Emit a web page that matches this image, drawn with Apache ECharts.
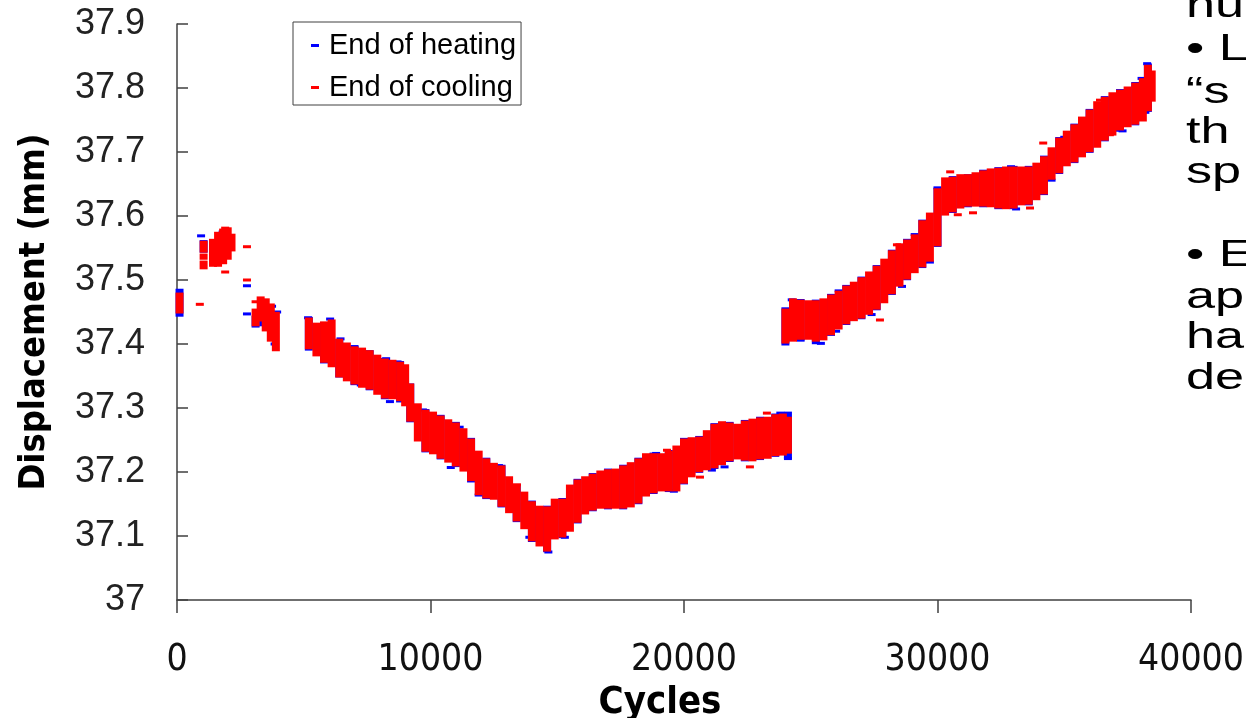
<!DOCTYPE html>
<html>
<head>
<meta charset="utf-8">
<script src="https://cdn.jsdelivr.net/npm/echarts@6/dist/echarts.min.js"></script>
<style>
  html, body { margin: 0; padding: 0; background: #fff; }
  #chart { width: 1246px; height: 718px; }
</style>
</head>
<body>
<div id="chart"></div>
<script>
// Displacement readings over the thermal cycling run.
// Each band entry is one cycle position with the lowest and highest displacement recorded there;
// entries with low == high are single readings.

// End of cooling
const coolCycles = [
  100, 900, 1050, 1050, 1050, 1420, 1620, 1820, 1900, 1900, 2000, 2150, 2760, 2760, 3100, 3100, 3300, 3500, 3700, 3900,
  5200, 5500, 5800, 6100, 6400, 6700, 7000, 7300, 7600, 7900, 8200, 8500, 8800, 9000, 9200,
  9500, 9800, 10100, 10400, 10700, 11000, 11300, 11600, 11900, 12200, 12500, 12800, 13100, 13400, 13700,
  14000, 14300, 14600, 14900, 15200, 15500, 15800, 16100, 16400, 16700, 17000, 17300, 17600, 17900,
  18200, 18500, 18800, 19100, 19400, 19700, 20000, 20300, 20600, 20900, 21200, 21500, 21800, 22100,
  22400, 22700, 23000, 23300, 23600, 23900, 24100,
  24000, 24300, 24600, 24900, 25200, 25500, 25800, 26100, 26400, 26700, 27000, 27300, 27600, 27900,
  28200, 28500, 28800, 29100, 29400, 29700, 30000, 30300, 30600, 30900, 31200, 31500, 31800, 32100,
  32400, 32700, 33000, 33300, 33600, 33900, 34200, 34500, 34800, 35100, 35400, 35700, 36000, 36300,
  36600, 36900, 37200, 37500, 37800, 38100, 38300, 38450
];
const coolLow = [
  37.450, 37.462, 37.545, 37.534, 37.519, 37.523, 37.523, 37.527, 37.581, 37.5125, 37.534, 37.547, 37.552, 37.500, 37.466, 37.430, 37.4375, 37.422, 37.406, 37.391,
  37.394, 37.383, 37.373, 37.366, 37.350, 37.344, 37.339, 37.334, 37.331, 37.323, 37.317, 37.316, 37.313, 37.305, 37.281,
  37.250, 37.234, 37.230, 37.223, 37.217, 37.211, 37.203, 37.188, 37.166, 37.161, 37.159, 37.148, 37.138, 37.125, 37.113,
  37.094, 37.086, 37.078, 37.097, 37.100, 37.109, 37.123, 37.136, 37.142, 37.145, 37.145, 37.145, 37.145, 37.147,
  37.153, 37.164, 37.169, 37.172, 37.172, 37.172, 37.184, 37.194, 37.202, 37.205, 37.208, 37.213, 37.219, 37.222,
  37.220, 37.219, 37.222, 37.223, 37.227, 37.228, 37.231,
  37.403, 37.406, 37.409, 37.409, 37.406, 37.408, 37.416, 37.425, 37.433, 37.438, 37.442, 37.448, 37.456, 37.466,
  37.480, 37.492, 37.503, 37.513, 37.522, 37.531, 37.555, 37.603, 37.608, 37.614, 37.617, 37.617, 37.617, 37.616,
  37.614, 37.613, 37.614, 37.619, 37.620, 37.627, 37.636, 37.659, 37.669, 37.680, 37.686, 37.694, 37.702, 37.709,
  37.720, 37.728, 37.736, 37.741, 37.745, 37.750, 37.766, 37.781
];
const coolHigh = [
  37.478, 37.462, 37.559, 37.539, 37.528, 37.562, 37.573, 37.578, 37.581, 37.5125, 37.580, 37.570, 37.552, 37.500, 37.466, 37.453, 37.472, 37.469, 37.461, 37.448,
  37.439, 37.431, 37.433, 37.436, 37.406, 37.400, 37.394, 37.392, 37.388, 37.381, 37.375, 37.373, 37.370, 37.366, 37.336,
  37.305, 37.295, 37.292, 37.286, 37.280, 37.275, 37.266, 37.250, 37.231, 37.219, 37.212, 37.208, 37.191, 37.178, 37.167,
  37.152, 37.145, 37.144, 37.156, 37.156, 37.178, 37.186, 37.191, 37.195, 37.200, 37.202, 37.203, 37.208, 37.213,
  37.219, 37.227, 37.227, 37.227, 37.231, 37.239, 37.250, 37.252, 37.253, 37.263, 37.273, 37.277, 37.275, 37.273,
  37.278, 37.281, 37.283, 37.284, 37.288, 37.289, 37.284,
  37.453, 37.469, 37.467, 37.466, 37.466, 37.469, 37.475, 37.481, 37.489, 37.495, 37.502, 37.511, 37.520, 37.531,
  37.544, 37.555, 37.561, 37.569, 37.591, 37.603, 37.641, 37.658, 37.659, 37.663, 37.663, 37.666, 37.669, 37.672,
  37.673, 37.675, 37.675, 37.675, 37.675, 37.681, 37.691, 37.705, 37.720, 37.731, 37.741, 37.753, 37.764, 37.777,
  37.784, 37.791, 37.795, 37.800, 37.806, 37.813, 37.834, 37.825
];
// Stray end-of-cooling readings just outside the main band
const coolDashCycles = [13410, 19330, 20630, 22600, 23270, 27730, 28400, 30500, 30800, 31400, 33650, 34170, 36410, 36800];
const coolDashValues = [37.180, 37.234, 37.192, 37.208, 37.292, 37.4375, 37.555, 37.669, 37.602, 37.605, 37.6125, 37.714, 37.781, 37.727];

// End of heating
const heatCycles = [
  100, 950, 1050, 1800, 2760, 2760, 3100, 3400, 3750, 3800, 3850, 3950,
  5200, 5800, 6400, 7000, 7600, 8200, 8800, 9200, 9800, 10400, 11000, 11600, 12200, 12800, 13400,
  14000, 14600, 15200, 15800, 16400, 17000, 17600, 18200, 18800, 19400, 20000, 20600, 21200, 21800,
  22400, 23000, 23600, 24100,
  24000, 24600, 25200, 25800, 26400, 27000, 27600, 28200, 28800, 29400, 30000, 30600, 31200,
  31800, 32400, 33000, 33600, 34200, 34800, 35400, 36000, 36600, 37200, 37800, 38300
];
const heatLow = [
  37.445, 37.569, 37.545, 37.530, 37.491, 37.447, 37.428, 37.430, 37.459, 37.409, 37.400, 37.450,
  37.392, 37.372, 37.350, 37.338, 37.330, 37.316, 37.311, 37.280, 37.233, 37.222, 37.210, 37.186, 37.160, 37.147, 37.124,
  37.093, 37.077, 37.099, 37.122, 37.141, 37.144, 37.144, 37.152, 37.168, 37.171, 37.183, 37.201, 37.207, 37.218,
  37.219, 37.221, 37.226, 37.223,
  37.400, 37.408, 37.402, 37.415, 37.432, 37.441, 37.455, 37.479, 37.502, 37.521, 37.554, 37.607, 37.616,
  37.616, 37.613, 37.613, 37.619, 37.635, 37.668, 37.685, 37.701, 37.719, 37.734, 37.744, 37.765
];
const heatHigh = [
  37.484, 37.569, 37.560, 37.575, 37.491, 37.447, 37.442, 37.465, 37.459, 37.409, 37.400, 37.450,
  37.440, 37.432, 37.405, 37.395, 37.388, 37.376, 37.371, 37.336, 37.296, 37.287, 37.276, 37.251, 37.220, 37.209, 37.179,
  37.153, 37.145, 37.157, 37.187, 37.196, 37.203, 37.209, 37.220, 37.228, 37.232, 37.251, 37.254, 37.274, 37.276,
  37.279, 37.284, 37.289, 37.292,
  37.455, 37.468, 37.467, 37.476, 37.490, 37.503, 37.521, 37.545, 37.562, 37.592, 37.642, 37.660, 37.663,
  37.670, 37.674, 37.676, 37.676, 37.692, 37.721, 37.742, 37.765, 37.785, 37.796, 37.807, 37.836
];
// Stray end-of-heating readings along the edges of the band
const heatDashCycles = [
  5170, 6040, 6450, 7000, 7250, 8250, 8400, 8700, 9700, 10800, 11150, 11900, 12700, 13900, 14650, 15300,
  18900, 19600, 21100, 21600, 23800, 24100, 24250, 24600, 25400, 26000, 26100, 27400, 28600, 29100,
  29700, 30000, 32900, 33100, 34500, 35000, 37300, 38050, 38200, 38270
];
const heatDashValues = [
  37.441, 37.439, 37.408, 37.396, 37.336, 37.377, 37.310, 37.372, 37.297, 37.207, 37.270, 37.164, 37.210, 37.098, 37.075, 37.098,
  37.229, 37.170, 37.203, 37.208, 37.292, 37.221, 37.469, 37.406, 37.401, 37.420, 37.483, 37.446, 37.490, 37.571,
  37.528, 37.644, 37.677, 37.611, 37.656, 37.723, 37.733, 37.815, 37.762, 37.838
];

function bandData(cycles, low, high, dashCycles, dashValues) {
  const out = cycles.map((c, i) => [c, low[i], high[i]]);
  dashCycles.forEach((c, i) => out.push([c, dashValues[i], dashValues[i]]));
  return out;
}

// Each reading is drawn as a short horizontal dash; a run of readings at one cycle stacks into a bar.
function dashRenderer(color) {
  return function (params, api) {
    const top = api.coord([api.value(0), api.value(2)]);
    const bot = api.coord([api.value(0), api.value(1)]);
    return {
      type: 'rect',
      shape: { x: top[0] - 4, y: top[1] - 1.5, width: 8, height: bot[1] - top[1] + 3 },
      style: { fill: color }
    };
  };
}

const chart = echarts.init(document.getElementById('chart'), null, { renderer: 'canvas' });

// Slide text running alongside the chart on the right
const sideLines = [
  ['nu', 9], ['\u2022 L', 52], ['\u201Cs', 95], ['th', 135], ['sp', 175],
  ['\u2022 E', 258], ['ap', 300], ['ha', 340], ['de', 381]
];

const condensed = '"DejaVu Sans Condensed", "Liberation Sans Narrow", sans-serif';

chart.setOption({
  animation: false,
  backgroundColor: '#ffffff',
  grid: { left: 177, right: 55, top: 24, bottom: 118, outerBoundsMode: 'none' },
  legend: {
    orient: 'vertical',
    left: 293,
    top: 22,
    padding: [9, 5, 3, 18],
    itemGap: 13,
    itemWidth: 8,
    itemHeight: 3,
    borderColor: '#404040',
    borderWidth: 1,
    selectedMode: false,
    textStyle: { fontFamily: '"Liberation Sans", Arial, sans-serif', fontSize: 29, lineHeight: 29, color: '#000', padding: [0, 0, 0, 5] },
    data: [
      { name: 'End of heating', icon: 'rect' },
      { name: 'End of cooling', icon: 'rect' }
    ]
  },
  xAxis: {
    type: 'value',
    min: 0,
    max: 40000,
    interval: 10000,
    name: 'Cycles',
    nameLocation: 'middle',
    nameGap: 72,
    nameTextStyle: { fontFamily: condensed, fontWeight: 'bold', fontSize: 38, color: '#000', padding: [0, 48, 0, 0] },
    splitLine: { show: false },
    axisLine: { show: true, lineStyle: { color: '#404040', width: 1.5 } },
    axisTick: { show: true, inside: false, length: 13, lineStyle: { color: '#404040', width: 1.5 } },
    axisLabel: {
      margin: 42,
      fontFamily: condensed,
      fontSize: 37,
      color: '#111',
      formatter: v => String(v)
    }
  },
  yAxis: {
    type: 'value',
    min: 37,
    max: 37.9,
    interval: 0.1,
    name: 'Displacement (mm)',
    nameLocation: 'middle',
    nameRotate: 90,
    nameGap: 124,
    nameTextStyle: { fontFamily: condensed, fontWeight: 'bold', fontSize: 36, color: '#000' },
    splitLine: { show: false },
    axisLine: { show: true, lineStyle: { color: '#404040', width: 1.5 } },
    axisTick: { show: true, inside: true, length: 11, lineStyle: { color: '#404040', width: 1.5 } },
    axisLabel: {
      margin: 32,
      fontFamily: '"Liberation Sans", Arial, sans-serif',
      fontSize: 36,
      color: '#222',
      formatter: v => String(Math.round(v * 10) / 10)
    }
  },
  graphic: sideLines.map(([t, y]) => ({
    type: 'text',
    x: 1186,
    y: y - 20,
    scaleX: 1.45,
    silent: true,
    style: { text: t, font: '36px "Liberation Sans", Arial, sans-serif', fill: '#000' }
  })),
  series: [
    {
      name: 'End of heating',
      type: 'custom',
      itemStyle: { color: '#0000ff' },
      encode: { x: 0, y: [1, 2] },
      renderItem: dashRenderer('#0000ff'),
      data: bandData(heatCycles, heatLow, heatHigh, heatDashCycles, heatDashValues)
    },
    {
      name: 'End of cooling',
      type: 'custom',
      itemStyle: { color: '#ff0000' },
      encode: { x: 0, y: [1, 2] },
      renderItem: dashRenderer('#ff0000'),
      data: bandData(coolCycles, coolLow, coolHigh, coolDashCycles, coolDashValues)
    }
  ]
});
</script>
</body>
</html>
